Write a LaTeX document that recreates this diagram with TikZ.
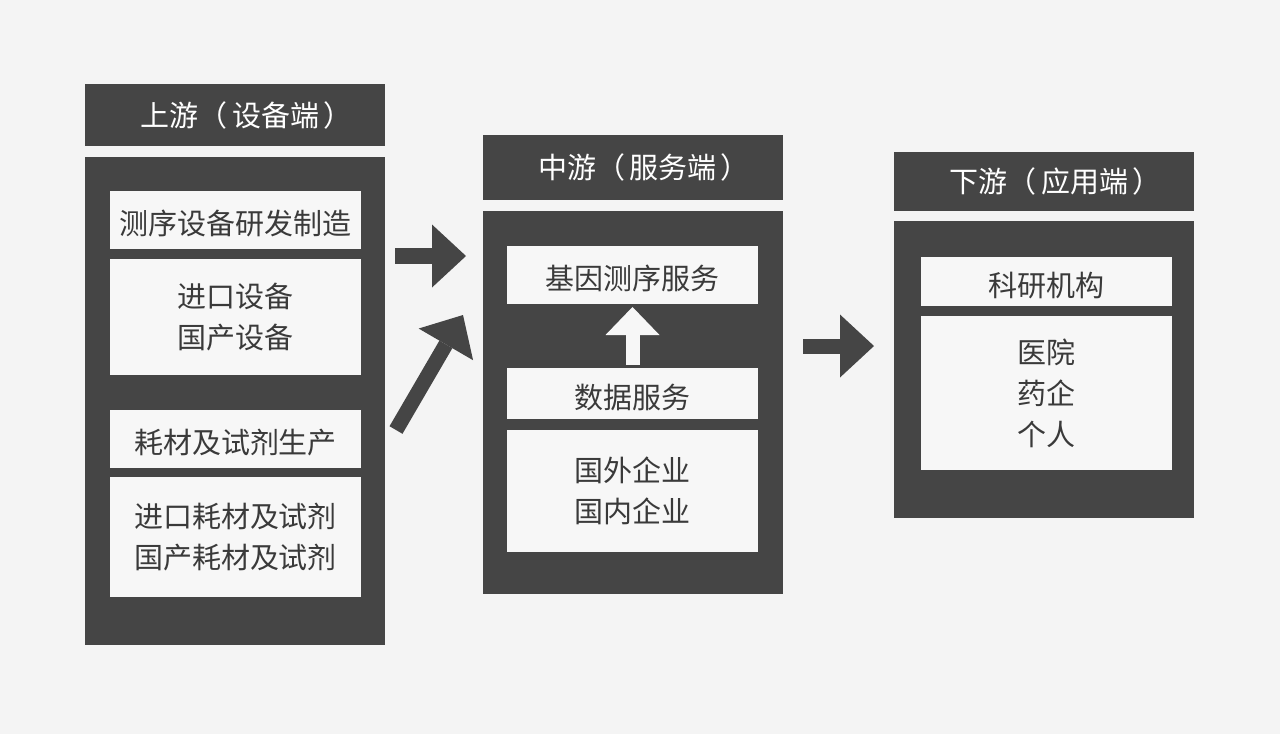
\documentclass[tikz,border=0pt]{standalone}
\usepackage{fontspec}
\newfontfamily\cjkfont{Noto Sans CJK SC}
\usetikzlibrary{arrows.meta,positioning}
\definecolor{bggray}{HTML}{F4F4F4}
\definecolor{panelgray}{HTML}{454545}
\definecolor{boxwhite}{HTML}{F7F7F7}
\definecolor{textdark}{HTML}{3A3A3A}
\tikzset{
  header/.style={
    rectangle, fill=panelgray, minimum width=6.0cm, inner sep=0pt, outer sep=0pt,
    font=\cjkfont\fontsize{16.5pt}{23.3pt}\selectfont, text=white
  },
  panel/.style={
    rectangle, fill=panelgray, minimum width=6.0cm, inner sep=0pt, outer sep=0pt
  },
  entry/.style={
    rectangle, fill=boxwhite, minimum width=5.02cm, inner sep=0pt, outer sep=0pt,
    align=center, font=\cjkfont\fontsize{16.5pt}{23.3pt}\selectfont, text=textdark
  },
  oneline/.style={text height=17pt, text depth=0pt},
  blockarrow/.style={line width=0.32cm, draw=panelgray,
    -{Triangle[length=0.68cm,width=1.26cm,line width=0pt]}},
  uparrow/.style={line width=0.28cm, draw=boxwhite,
    -{Triangle[length=0.56cm,width=1.08cm,line width=0pt]}}
}
\newcommand{\stagetitle}[2]{\kern0.8em#1（\kern0.15em#2\kern0.15em）}

\begin{document}
\begin{tikzpicture}
\fill[bggray] (0,0) rectangle (25.6,-14.68);
% upstream
\node[header, minimum height=1.24cm] (uphead) at (4.70,-2.30) {\stagetitle{上游}{设备端}};
\node[panel, minimum height=9.76cm, below=0.22cm of uphead] (upbody) {};
\node[entry, oneline, minimum height=1.16cm] (upequip) at (4.71,-4.40) {测序设备研发制造};
\node[entry, minimum height=2.32cm] (upequiplist) at (4.71,-6.34) {进口设备\\国产设备};
\node[entry, oneline, minimum height=1.16cm] (upreagent) at (4.71,-8.78) {耗材及试剂生产};
\node[entry, minimum height=2.40cm] (upreagentlist) at (4.71,-10.74) {进口耗材及试剂\\国产耗材及试剂};
% midstream
\node[header, minimum height=1.30cm] (midhead) at (12.65,-3.35) {\stagetitle{中游}{服务端}};
\node[panel, minimum height=7.66cm, below=0.22cm of midhead] (midbody) {};
\node[entry, oneline, minimum height=1.16cm] (midseq) at (12.65,-5.50) {基因测序服务};
\node[entry, oneline, minimum height=1.02cm] (middata) at (12.65,-7.87) {数据服务};
\node[entry, minimum height=2.44cm] (midfirms) at (12.65,-9.82) {国外企业\\国内企业};
% downstream
\node[header, minimum height=1.18cm] (downhead) at (20.88,-3.63) {\stagetitle{下游}{应用端}};
\node[panel, minimum height=5.94cm, below=0.20cm of downhead] (downbody) {};
\node[entry, oneline, minimum height=0.98cm] (downlab) at (20.93,-5.63) {科研机构};
\node[entry, minimum height=3.08cm] (downusers) at (20.93,-7.86) {医院\\药企\\个人};
% arrows between stages
\coordinate (equipout) at (7.90,-5.12);
\coordinate (equipin) at (9.32,-5.12);
\coordinate (reagentout) at (7.92,-8.60);
\coordinate (reagentin) at (9.26,-6.30);
\coordinate (serviceout) at (16.06,-6.92);
\coordinate (servicein) at (17.48,-6.92);
\draw[blockarrow] (equipout) -- (equipin);
\draw[blockarrow, line width=0.30cm] (reagentout) -- (reagentin);
\draw[blockarrow, line width=0.30cm] (serviceout) -- (servicein);
\draw[uparrow, shorten <=0.06cm, shorten >=0.06cm] (middata.north) -- (midseq.south);
\end{tikzpicture}
\end{document}
